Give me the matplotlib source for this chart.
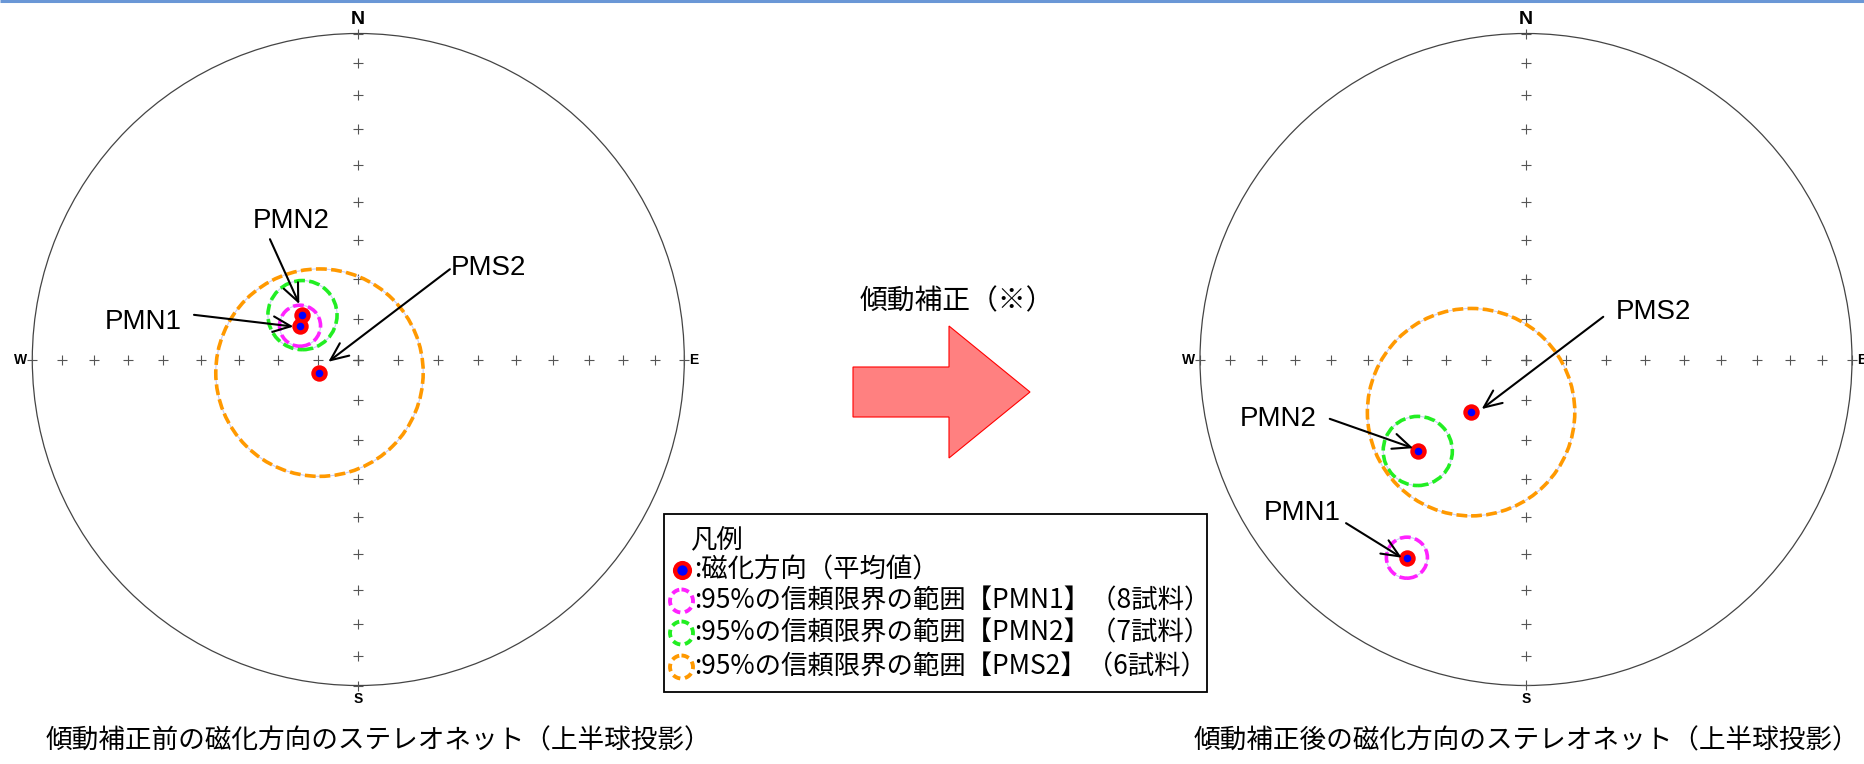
import numpy as np
import matplotlib.pyplot as plt
from matplotlib.patches import Circle, Polygon, Rectangle

plt.rcParams['font.family'] = ['Noto Sans CJK JP', 'DejaVu Sans']

# 平均磁化方向（上半球投影） 偏角・伏角 [deg]、α95 [deg]
sites = ['PMN1', 'PMN2', 'PMS2']
n_samples = [8, 7, 6]
dec_before = [300.1, 308.5, 251.3]
inc_before = [-73.2, -72.2, -79.8]
dec_after = [211.0, 229.8, 226.2]
inc_after = [-29.8, -54.2, -71.0]
a95 = [5.1, 8.6, 26.0]
circle_colors = ['#ff22ff', '#22ee22', '#ff9900']

W, H = 1865, 764


def schmidt(dec, inc):
    # 等積投影（シュミットネット）
    r = np.sqrt(2) * np.sin(np.radians(90 - np.abs(np.asarray(inc))) / 2)
    d = np.radians(np.asarray(dec))
    return r * np.sin(d), r * np.cos(d)


ring = np.sqrt(2) * np.sin(np.radians(np.arange(0, 91, 10)) / 2)


def draw_net(ax, dec, inc, labels):
    ax.set_xlim(-1, 1)
    ax.set_ylim(-1, 1)
    ax.set_aspect('equal')
    ax.axis('off')
    ax.add_patch(Circle((0, 0), 1, fill=False, ec='#444444', lw=0.9, clip_on=False))
    for ang in np.radians([0, 90, 180, 270]):
        ax.plot(ring * np.sin(ang), ring * np.cos(ang), '+', ms=7, mew=0.8,
                color='#555555', ls='none', clip_on=False)
    bold = dict(family='Liberation Sans', fontweight='bold', color='black')
    ax.text(0, 1.03, 'N', ha='center', va='baseline', fontsize=14, **bold)
    ax.text(0, -1.02, 'S', ha='center', va='top', fontsize=10, **bold)
    ax.text(-1.015, 0, 'W', ha='right', va='center', fontsize=10, **bold)
    ax.text(1.015, 0, 'E', ha='left', va='center', fontsize=10, **bold)

    xs, ys = schmidt(dec, inc)
    rad = np.sqrt(2) * np.sin(np.radians(a95) / 2)
    for x, y, r, c in zip(xs, ys, rad, circle_colors):
        ax.add_patch(Circle((x, y), r, fill=False, ec='#c9cdf5', lw=0.8, zorder=3))
        ax.add_patch(Circle((x, y), r, fill=False, ec=c, lw=2.6,
                            ls=(0, (3, 1.2)), zorder=4))
    ax.scatter(xs, ys, s=140, c='red', lw=0, zorder=5)
    ax.scatter(xs, ys, s=30, c='blue', lw=0, zorder=6)

    for name, (tx, ty, x0, y0, hx, hy) in labels.items():
        ax.text(tx, ty, name, fontsize=20, family='Liberation Sans',
                ha='center', va='center', zorder=7)
        ax.annotate('', xy=(hx, hy), xytext=(x0, y0), zorder=7,
                    arrowprops=dict(arrowstyle='->,head_length=0.8,head_width=0.35',
                                    lw=1.5, color='black', shrinkA=0, shrinkB=0,
                                    mutation_scale=16))


fig = plt.figure(figsize=(W / 100, H / 100), dpi=100)

# 全体用の軸（ピクセル座標）
ov = fig.add_axes([0, 0, 1, 1])
ov.set_xlim(0, W)
ov.set_ylim(H, 0)
ov.axis('off')
ov.plot([0, W], [1, 1], color='#6a97d6', lw=2.2, solid_capstyle='butt')

# 傾動補正の矢印
ov.add_patch(Polygon([(853, 367), (949, 367), (949, 326), (1030, 392),
                      (949, 458), (949, 417), (853, 417)],
                     closed=True, fc='#ff8080', ec='#ff0000', lw=0.8))
ov.text(957, 301, '傾動補正（※）', fontsize=20, ha='center', va='center')

# キャプション
ov.text(378, 741, '傾動補正前の磁化方向のステレオネット（上半球投影）',
        fontsize=19.2, ha='center', va='center')
ov.text(1526, 741, '傾動補正後の磁化方向のステレオネット（上半球投影）',
        fontsize=19.2, ha='center', va='center')

# 凡例
ov.add_patch(Rectangle((664, 514), 543, 178, fill=False, ec='black', lw=1.3))
ov.text(690, 540, '凡例', fontsize=19, ha='left', va='center')
rows_y = [570, 601, 633, 667]
ov.scatter([681.5], [rows_y[0]], s=190, c='red', lw=0, zorder=5)
ov.scatter([681.5], [rows_y[0]], s=55, c='blue', lw=0, zorder=6)
ov.text(694, rows_y[0], ':磁化方向（平均値）', fontsize=19, ha='left', va='center')
for yy, name, n, c in zip(rows_y[1:], sites, n_samples, circle_colors):
    ov.add_patch(Circle((681.5, yy), 11.5, fill=False, ec=c, lw=2.8, ls=(0, (2.0, 1.2))))
    ov.text(694, yy, f':95%の信頼限界の範囲【{name}】（{n}試料）',
            fontsize=19, ha='left', va='center')

# ステレオネット
pos_l = [32.3 / W, (H - 685.5) / H, 652 / W, 652 / H]
pos_r = [1200 / W, (H - 685.5) / H, 652 / W, 652 / H]
ax1 = fig.add_axes(pos_l)
ax2 = fig.add_axes(pos_r)

labels_before = {
    'PMN2': (-0.205, 0.425, -0.271, 0.369, -0.181, 0.170),
    'PMN1': (-0.661, 0.114, -0.504, 0.137, -0.199, 0.101),
    'PMS2': (0.400, 0.282, 0.281, 0.277, -0.092, -0.007),
}
labels_after = {
    'PMS2': (0.390, 0.147, 0.237, 0.131, -0.136, -0.152),
    'PMN2': (-0.759, -0.182, -0.602, -0.182, -0.346, -0.272),
    'PMN1': (-0.687, -0.470, -0.552, -0.502, -0.381, -0.608),
}
draw_net(ax1, dec_before, inc_before, labels_before)
draw_net(ax2, dec_after, inc_after, labels_after)

fig.savefig('out.png', dpi=100, facecolor='white')
